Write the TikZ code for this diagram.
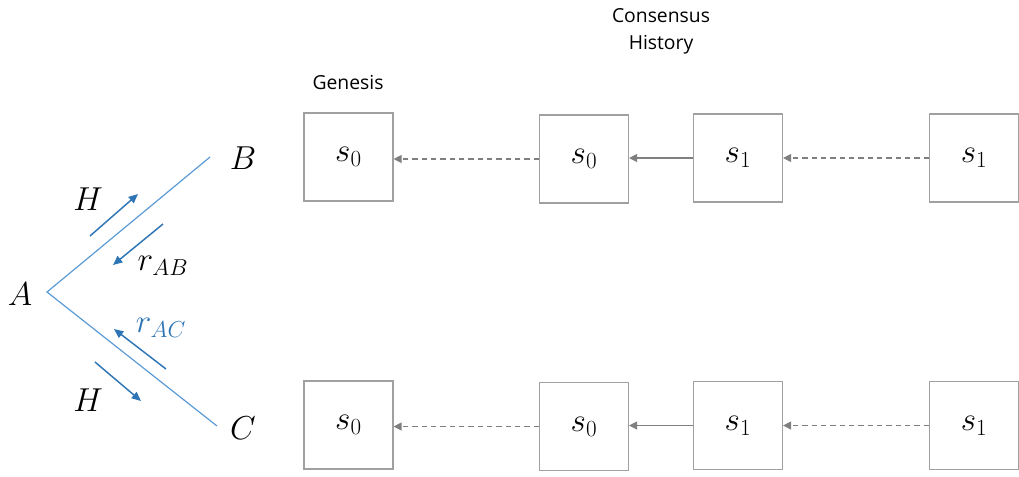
\documentclass[tikz,border=0pt]{standalone}
\usepackage{fontspec}
\setsansfont{Open Sans}
\usetikzlibrary{arrows.meta}
\definecolor{linkblue}{HTML}{5B9BD5}
\definecolor{msgblue}{HTML}{2E75B6}
\definecolor{boxgray}{HTML}{A0A0A0}
\definecolor{arrgray}{HTML}{7F7F7F}
\tikzset{
  state/.style={draw=boxgray, line width=1.1pt, minimum width=66.5pt, minimum height=66pt, inner sep=0pt, font=\fontsize{24}{28}\selectfont},
  link/.style={draw=linkblue, line width=0.9pt},
  msg/.style={draw=msgblue, line width=1.1pt, -{Triangle[length=7pt,width=6pt]}},
  ptr/.style={draw=arrgray, line width=0.9pt, -{Triangle[length=6pt,width=6pt]}},
  ptrdash/.style={ptr, dash pattern=on 4pt off 3pt},
  peer/.style={font=\fontsize{23}{26}\selectfont, inner sep=0pt},
  caption/.style={font=\sffamily\fontsize{14.5}{20}\selectfont, align=center, inner sep=0pt},
}
\begin{document}
\begin{tikzpicture}[x=0.75pt,y=-0.75pt]
\useasboundingbox (0,0) rectangle (1019,476);

% peers and links
\node[peer] (A) at (20,294) {$A$};
\node[peer] (B) at (243,158) {$B$};
\node[peer] (C) at (243,428) {$C$};
\coordinate (v) at (47,292);
\coordinate (bEnd) at (210,157);
\coordinate (cEnd) at (217,426);
\draw[link] (bEnd) -- (v) -- (cEnd);

% messages exchanged with B
\coordinate (h1s) at (90,236);  \coordinate (h1e) at (138,194);
\coordinate (r1s) at (163,224); \coordinate (r1e) at (113,265);
\draw[msg] (h1s) -- (h1e);
\draw[msg] (r1s) -- (r1e);
\node[peer] (H1) at (88,199) {$H$};
\node[peer] (rAB) at (163,266) {$r_{AB}$};

% messages exchanged with C
\coordinate (r2s) at (166,369); \coordinate (r2e) at (114,329);
\coordinate (h2s) at (95,362);  \coordinate (h2e) at (141,401);
\draw[msg] (r2s) -- (r2e);
\draw[msg] (h2s) -- (h2e);
\node[peer, text=msgblue] (rAC) at (161,328) {$r_{AC}$};
\node[peer] (H2) at (88,400) {$H$};

% captions
\node[caption] (gen) at (348,82) {Genesis};
\node[caption] (hist) at (661,31) {Consensus\\History};

% top chain
\node[state] (t0) at (348.5,157) {$s_0$};
\node[state] (t1) at (584,159) {$s_0$};
\node[state] (t2) at (738,158) {$s_1$};
\node[state] (t3) at (974,158) {$s_1$};
\draw[ptrdash] (t1.west) -- (t0.east |- t1.west);
\draw[ptr] (t2.west) -- (t1.east |- t2.west);
\draw[ptrdash] (t3.west) -- (t2.east |- t3.west);

% bottom chain
\node[state] (b0) at (348.5,425) {$s_0$};
\node[state] (b1) at (584,426.5) {$s_0$};
\node[state] (b2) at (738,425.5) {$s_1$};
\node[state] (b3) at (974,425.5) {$s_1$};
\draw[ptrdash] (b1.west) -- (b0.east |- b1.west);
\draw[ptr] (b2.west) -- (b1.east |- b2.west);
\draw[ptrdash] (b3.west) -- (b2.east |- b3.west);
\end{tikzpicture}
\end{document}
